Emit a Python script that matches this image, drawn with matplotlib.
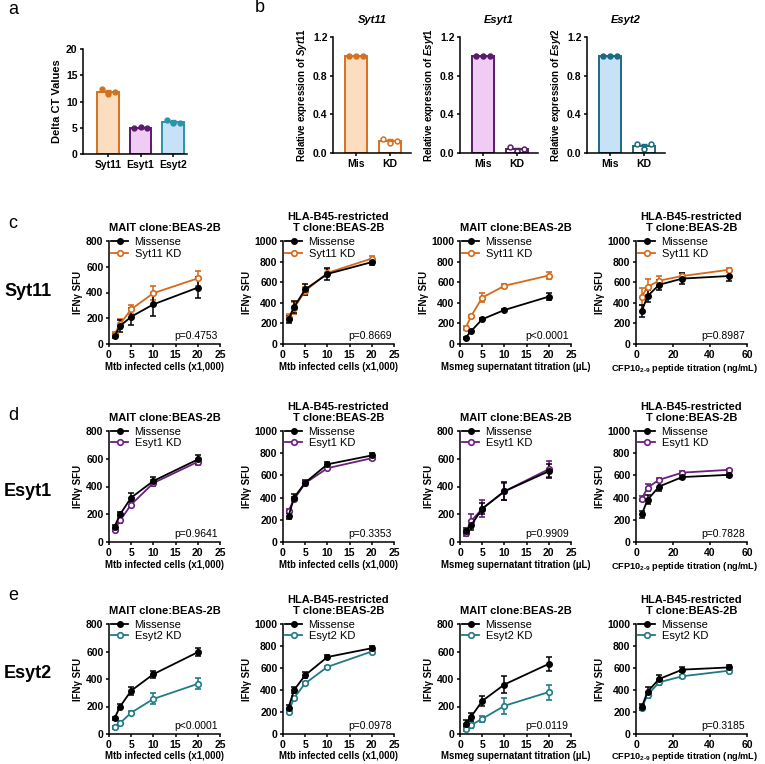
import numpy as np
import matplotlib.pyplot as plt
from matplotlib.lines import Line2D

plt.rcParams['font.family'] = ['Liberation Sans', 'DejaVu Sans']
plt.rcParams['font.weight'] = 'bold'
plt.rcParams['axes.labelweight'] = 'bold'
plt.rcParams['axes.titleweight'] = 'bold'
plt.rcParams['mathtext.fontset'] = 'custom'
plt.rcParams['mathtext.it'] = 'Liberation Sans:italic:bold'
plt.rcParams['mathtext.rm'] = 'Liberation Sans:bold'
plt.rcParams['axes.linewidth'] = 1.1
plt.rcParams['xtick.major.width'] = 1.1
plt.rcParams['ytick.major.width'] = 1.1
plt.rcParams['xtick.major.size'] = 2.5
plt.rcParams['ytick.major.size'] = 2.5
plt.rcParams['xtick.labelsize'] = 7.5
plt.rcParams['ytick.labelsize'] = 7.5
plt.rcParams['xtick.major.pad'] = 1.5
plt.rcParams['ytick.major.pad'] = 1.5

# ---- data ----
genes = ['Syt11', 'Esyt1', 'Esyt2']
delta_ct_syt11 = [12.3, 11.5, 11.8]
delta_ct_esyt1 = [5.0, 5.2, 4.9]
delta_ct_esyt2 = [6.5, 5.9, 6.0]

rel_mis_syt11 = [1.0, 1.0, 1.0]
rel_kd_syt11 = [0.15, 0.10, 0.12]
rel_mis_esyt1 = [1.0, 1.0, 1.0]
rel_kd_esyt1 = [0.06, 0.02, 0.04]
rel_mis_esyt2 = [1.0, 1.0, 1.0]
rel_kd_esyt2 = [0.09, 0.04, 0.09]

mtb_cells = [1.25, 2.5, 5, 10, 20]
msmeg_ul = [1.25, 2.5, 5, 10, 20]
cfp10_ng = [3.125, 6.25, 12.5, 25, 50]

# per row: [MAIT Mtb, HLA Mtb, MAIT Msmeg, HLA CFP10]
syt11_mis = [[62, 140, 212, 308, 438], [240, 360, 530, 680, 795],
             [60, 125, 240, 330, 460], [320, 465, 575, 635, 660]]
syt11_mis_err = [[18, 45, 65, 88, 80], [35, 60, 50, 60, 30],
                 [12, 10, 10, 10, 35], [60, 55, 50, 50, 50]]
syt11_kd = [[75, 155, 270, 395, 510], [255, 350, 515, 690, 830],
            [155, 270, 450, 565, 665], [460, 555, 615, 660, 720]]
syt11_kd_err = [[20, 40, 35, 55, 60], [40, 60, 40, 40, 20],
                [15, 15, 45, 20, 30], [80, 80, 50, 30, 20]]

esyt1_mis = [[110, 200, 320, 440, 595], [235, 400, 535, 700, 780],
             [80, 120, 240, 365, 510], [250, 380, 500, 585, 605]]
esyt1_mis_err = [[10, 15, 30, 25, 30], [25, 30, 25, 25, 20],
                 [20, 30, 40, 65, 50], [30, 40, 40, 20, 20]]
esyt1_kd = [[90, 155, 270, 425, 578], [280, 385, 530, 665, 755],
            [65, 150, 240, 365, 525], [390, 490, 560, 625, 650]]
esyt1_kd_err = [[10, 15, 20, 20, 20], [15, 20, 20, 15, 15],
                [20, 50, 60, 60, 60], [20, 30, 20, 15, 10]]

esyt2_mis = [[115, 200, 315, 435, 595], [240, 400, 535, 700, 780],
             [75, 125, 240, 360, 510], [245, 385, 500, 585, 605]]
esyt2_mis_err = [[10, 15, 30, 25, 30], [25, 30, 25, 20, 20],
                 [25, 30, 35, 65, 50], [25, 40, 40, 25, 25]]
esyt2_kd = [[50, 80, 155, 255, 365], [200, 330, 460, 610, 750],
            [40, 65, 110, 205, 305], [240, 355, 470, 525, 575]]
esyt2_kd_err = [[10, 15, 15, 40, 40], [10, 20, 15, 10, 10],
                [15, 20, 20, 60, 55], [20, 30, 20, 15, 15]]

p_syt11 = ['p=0.4753', 'p=0.8669', 'p<0.0001', 'p=0.8987']
p_esyt1 = ['p=0.9641', 'p=0.3353', 'p=0.9909', 'p=0.7828']
p_esyt2 = ['p<0.0001', 'p=0.0978', 'p=0.0119', 'p=0.3185']

ymax_syt11 = [800, 1000, 1000, 1000]
ymax_esyt1 = [800, 1000, 800, 1000]
ymax_esyt2 = [800, 1000, 800, 1000]

titles = ['MAIT clone:BEAS-2B', 'HLA-B45-restricted\nT clone:BEAS-2B',
          'MAIT clone:BEAS-2B', 'HLA-B45-restricted\nT clone:BEAS-2B']
xlabels = ['Mtb infected cells (x1,000)', 'Mtb infected cells (x1,000)',
           'Msmeg supernatant titration (\u00b5L)',
           'CFP10$_{\\mathregular{2\u20109}}$ peptide titration (ng/mL)']

# colours
edge_cols = ['#D4711F', '#5B1A6B', '#2A94A8']
edge_cols_b = ['#D4711F', '#5B1A6B', '#1D6A82']
fill_cols = ['#FCDDBF', '#F0CCF5', '#C7E1F7']
line_cols = ['#D46A1A', '#6B1F7E', '#1F7B85']

W, H = 765, 764
fig = plt.figure(figsize=(W / 100, H / 100), dpi=100)


def add_ax(left, top, width, height):
    return fig.add_axes([left / W, 1 - (top + height) / H, width / W, height / H])


def clean(ax):
    ax.spines['top'].set_visible(False)
    ax.spines['right'].set_visible(False)


# ---- panel a ----
ax = add_ax(83, 49, 104, 105)
clean(ax)
offs = np.array([-0.2, 0, 0.2])
for i, pts in enumerate([delta_ct_syt11, delta_ct_esyt1, delta_ct_esyt2]):
    m = np.mean(pts)
    ax.bar(i, m, 0.65, color=fill_cols[i], edgecolor=edge_cols[i], linewidth=1.4)
    ax.errorbar(i, m, yerr=np.std(pts), color=edge_cols[i], capsize=2, lw=1, capthick=1)
    ax.plot(i + offs, pts, 'o', color=edge_cols[i], ms=3.5)
ax.set_xlim(-0.77, 2.43)
ax.set_ylim(0, 20)
ax.set_yticks([0, 5, 10, 15, 20])
ax.set_xticks([0, 1, 2])
ax.set_xticklabels(genes)
ax.set_ylabel('Delta CT Values', fontsize=8, labelpad=3)

# ---- panel b ----
b_mis = [rel_mis_syt11, rel_mis_esyt1, rel_mis_esyt2]
b_kd = [rel_kd_syt11, rel_kd_esyt1, rel_kd_esyt2]
for i, left in enumerate([333, 460, 587]):
    ax = add_ax(left, 37, 78, 116)
    clean(ax)
    c = edge_cols_b[i]
    for j, (pts, filled) in enumerate([(b_mis[i], True), (b_kd[i], False)]):
        m = np.mean(pts)
        ax.bar(j, m, 0.65, color=fill_cols[i] if j == 0 else 'white',
               edgecolor=c, linewidth=1.4)
        ax.errorbar(j, m, yerr=np.std(pts), color=c, capsize=2, lw=1, capthick=1)
        ax.plot(j + np.array([-0.2, 0, 0.2]), pts, 'o', color=c, ms=3.5,
                mfc=c if filled else 'white', mew=1.1)
    ax.set_xlim(-0.68, 1.62)
    ax.set_ylim(0, 1.2)
    ax.set_yticks([0, 0.4, 0.8, 1.2])
    ax.set_yticklabels(['0.0', '0.4', '0.8', '1.2'])
    ax.set_xticks([0, 1])
    ax.set_xticklabels(['Mis', 'KD'])
    ax.set_ylabel('Relative expression of $\\mathit{%s}$' % genes[i], fontsize=7, labelpad=3)
    ax.set_title(genes[i], fontsize=8, fontstyle='italic', pad=10)

# ---- panels c-e ----
rows = [
    (syt11_mis, syt11_mis_err, syt11_kd, syt11_kd_err, p_syt11, ymax_syt11, 241, 103),
    (esyt1_mis, esyt1_mis_err, esyt1_kd, esyt1_kd_err, p_esyt1, ymax_esyt1, 431, 111),
    (esyt2_mis, esyt2_mis_err, esyt2_kd, esyt2_kd_err, p_esyt2, ymax_esyt2, 624, 110),
]
xs_all = [mtb_cells, mtb_cells, msmeg_ul, cfp10_ng]
lefts = [109, 283, 460, 636]

for r, (mis, mis_e, kd, kd_e, pv, ymx, top, hgt) in enumerate(rows):
    col = line_cols[r]
    lp = 2 if r < 2 else 1
    for k in range(4):
        ax = add_ax(lefts[k], top, 111, hgt)
        clean(ax)
        xs = xs_all[k]
        ax.errorbar(xs, kd[k], yerr=kd_e[k], color=col, marker='o', ms=4,
                    mfc='white', mec=col, mew=1.2, lw=1.3, capsize=2, capthick=1.1,
                    elinewidth=1.1, clip_on=False)
        ax.errorbar(xs, mis[k], yerr=mis_e[k], color='black', marker='o', ms=4,
                    lw=1.3, capsize=2, capthick=1.1, elinewidth=1.1, clip_on=False)
        if k == 3:
            ax.set_xlim(0, 60)
            ax.set_xticks([0, 20, 40, 60])
        else:
            ax.set_xlim(0, 25)
            ax.set_xticks([0, 5, 10, 15, 20, 25])
        ax.set_ylim(0, ymx[k])
        ax.set_yticks(np.arange(0, ymx[k] + 1, 200))
        ax.set_ylabel('IFN\u03b3 SFU', fontsize=7, labelpad=2)
        if k == 3:
            ax.set_xlabel(xlabels[k], fontsize=6.6, labelpad=lp - 0.5, x=0.44)
        else:
            ax.set_xlabel(xlabels[k], fontsize=6.9, labelpad=lp)
        ax.set_title(titles[k], fontsize=8, pad=7, linespacing=1.1)
        handles = [Line2D([], [], color='black', marker='o', ms=4, lw=1.3),
                   Line2D([], [], color=col, marker='o', ms=4, lw=1.3,
                          mfc='white', mec=col, mew=1.2)]
        ax.legend(handles, ['Missense', genes[r] + ' KD'], loc='upper left',
                  bbox_to_anchor=(-0.02, 1.08), frameon=False,
                  prop={'size': 8, 'weight': 'normal'}, handlelength=1.5,
                  handletextpad=0.6, labelspacing=0.15, borderaxespad=0)
        ax.text(0.98, 0.03, pv[k], transform=ax.transAxes, ha='right', va='bottom',
                fontsize=7.5, fontweight='normal')

# row labels and panel letters
for y, g in zip([292, 492, 673], genes):
    fig.text(4 / W, 1 - y / H, g, fontsize=13, fontweight='bold', va='center')
for x, y, s in [(8, 10, 'a'), (255, 8, 'b'), (8, 223, 'c'), (8, 415, 'd'), (8, 596, 'e')]:
    fig.text(x / W, 1 - y / H, s, fontsize=13, fontweight='normal', va='center')

fig.savefig('out.png', dpi=100)
